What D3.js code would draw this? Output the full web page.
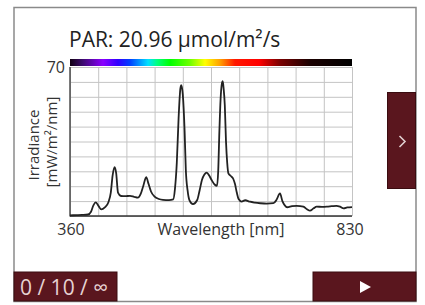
<!DOCTYPE html>
<html><head><meta charset="utf-8">
<script src="https://cdn.jsdelivr.net/npm/d3@7"></script>
<style>
html,body{margin:0;padding:0;background:#fff;}
svg{display:block;font-family:"Open Sans",sans-serif;}
</style></head>
<body>
<svg id="c" width="425" height="305"></svg>
<script>
const wavelengths = [360,370,380,390,395,399,403,408,412,418,424,428,431,434.5,437,440,445,452,460,467,473,478,482,487,491,495,501,508,515,525,532,535,538,541,544,545.5,548,551,553,556,559,565,572,576,580,584,588,592,596,601,605,607,609,611,613,614.5,616,618,620,622,624,628,632,635,638,641,646,652,660,668,677,688,699,704,710,714,718,722,730,738,749,755,760,766,771,780,788,796,804,810,816,822,830];
const irradiance = [0.3,0.4,0.5,0.7,2,5,6.4,4.5,3.1,4.0,6.5,11,19,22.9,20,11,9.4,9.3,9.5,9.0,8.6,10.5,14,18.2,15,11.5,9.1,8.0,7.6,7.5,7.8,13,25,46,60,61.5,57,40,22,12,7.5,5.6,7.5,12,17,19.5,20.4,19,16.9,14.8,14.2,21,40,55,62,63.3,60,52,35,25,20,18.8,17.5,15,11,8,6.8,7.4,6.7,6.3,6.0,5.8,6.0,7.5,10.6,7.0,5,4.1,4.6,4.8,4.4,3.2,2.5,3.6,4.4,4.3,4.4,4.6,4.8,4.4,3.6,4.0,4.2];
const xDomain = [360,830];
const yDomain = [0,70];
const xTickLabels = ["360","830"];
const yTickLabels = ["70"];
const spectrumStops = [[360,"#120012"],[380,"#3a0a6a"],[415,"#8a00ff"],[440,"#3000ff"],[460,"#0040ff"],[490,"#00e0ff"],[505,"#00ff80"],[527,"#00ff00"],[560,"#70ff00"],[585,"#ffff00"],[610,"#ffa000"],[635,"#ff1800"],[675,"#ff0000"],[710,"#7a0000"],[760,"#1a0000"],[830,"#000000"]];
const title = "PAR: 20.96 µmol/m²/s";
const xLabel = "Wavelength [nm]";
const yLabel = ["Irradiance","[mW/m²/nm]"];
const counterText = "0 / 10 / ∞";

const svg = d3.select("#c");
const maroon = "#5a161e";

// frame
svg.append("rect").attr("x",14).attr("y",7.5).attr("width",402).attr("height",294)
  .attr("fill","#fff").attr("stroke","#8a8a8a").attr("stroke-width",1.5);

const L=70,R=352,T=67,B=216;
const x = d3.scaleLinear().domain(xDomain).range([L,R]);
const y = d3.scaleLinear().domain(yDomain).range([B,T]);

// grid
const g = svg.append("g");
g.append("g").attr("transform",`translate(0,${B})`)
  .call(d3.axisBottom(x).tickValues(d3.range(0,11).map(i=>xDomain[0]+i*(xDomain[1]-xDomain[0])/10)).tickSize(-(B-T)).tickFormat(""))
  .call(a=>a.select(".domain").remove())
  .call(a=>a.selectAll("line").attr("stroke","#c4c4c4").attr("stroke-width",1));
g.append("g").attr("transform",`translate(${L},0)`)
  .call(d3.axisLeft(y).tickValues(d3.range(0,11).map(i=>i*7)).tickSize(-(R-L)).tickFormat(""))
  .call(a=>a.select(".domain").remove())
  .call(a=>a.selectAll("line").attr("stroke","#c4c4c4").attr("stroke-width",1));

// spectrum bar
const defs = svg.append("defs");
const grad = defs.append("linearGradient").attr("id","spec").attr("x1","0%").attr("x2","100%");
spectrumStops.forEach(s=>grad.append("stop").attr("offset",((s[0]-xDomain[0])/(xDomain[1]-xDomain[0])*100)+"%").attr("stop-color",s[1]));
svg.append("rect").attr("x",x(xDomain[0])).attr("y",59).attr("width",x(xDomain[1])-x(xDomain[0])).attr("height",7).attr("fill","url(#spec)");

// axes lines
svg.append("line").attr("x1",L).attr("x2",L).attr("y1",T).attr("y2",B+0.5).attr("stroke","#333").attr("stroke-width",1.3);
svg.append("line").attr("x1",L).attr("x2",R).attr("y1",B).attr("y2",B).attr("stroke","#333").attr("stroke-width",1.3);

// curve
const line = d3.line().x((d,i)=>x(wavelengths[i])).y(d=>y(d)).curve(d3.curveMonotoneX);
svg.append("path").datum(irradiance).attr("d",line).attr("fill","none").attr("stroke","#222").attr("stroke-width",1.8).attr("stroke-linejoin","round");

// texts
svg.append("text").attr("x",69).attr("y",47).attr("font-size",21).attr("fill","#222").text(title);
svg.append("text").attr("x",65).attr("y",72.5).attr("text-anchor","end").attr("font-size",16).attr("fill","#333").text(yTickLabels[0]);
svg.append("text").attr("x",x(xDomain[0])+1).attr("y",235).attr("text-anchor","middle").attr("font-size",16).attr("fill","#333").text(xTickLabels[0]);
svg.append("text").attr("x",x(xDomain[1])-2).attr("y",235).attr("text-anchor","middle").attr("font-size",16).attr("fill","#333").text(xTickLabels[1]);
svg.append("text").attr("x",221).attr("y",235).attr("text-anchor","middle").attr("font-size",16).attr("fill","#333").text(xLabel);
svg.append("text").attr("transform","translate(39,145) rotate(-90)").attr("text-anchor","middle").attr("font-size",15).attr("fill","#333").text(yLabel[0]);
svg.append("text").attr("transform","translate(57,142) rotate(-90)").attr("text-anchor","middle").attr("font-size",15).attr("fill","#333").text(yLabel[1]);

// buttons
svg.append("rect").attr("x",14).attr("y",272).attr("width",103).attr("height",29).attr("fill",maroon).attr("stroke","#3a0c10").attr("stroke-width",1);
svg.append("text").attr("x",20).attr("y",295).attr("font-size",21).attr("fill","#e6d2d2").text(counterText);
svg.append("rect").attr("x",313).attr("y",272).attr("width",103).attr("height",29).attr("fill",maroon).attr("stroke","#3a0c10").attr("stroke-width",1);
svg.append("path").attr("d","M360,281 L371,287 L360,293 Z").attr("fill","#fff");
svg.append("rect").attr("x",387.5).attr("y",92.5).attr("width",28).attr("height",96).attr("fill",maroon).attr("stroke","#3a0c10").attr("stroke-width",1);
svg.append("path").attr("d","M399.5,136 L405,141.5 L399.5,147").attr("fill","none").attr("stroke","#e0d0d0").attr("stroke-width",1.6);
</script>
</body></html>
